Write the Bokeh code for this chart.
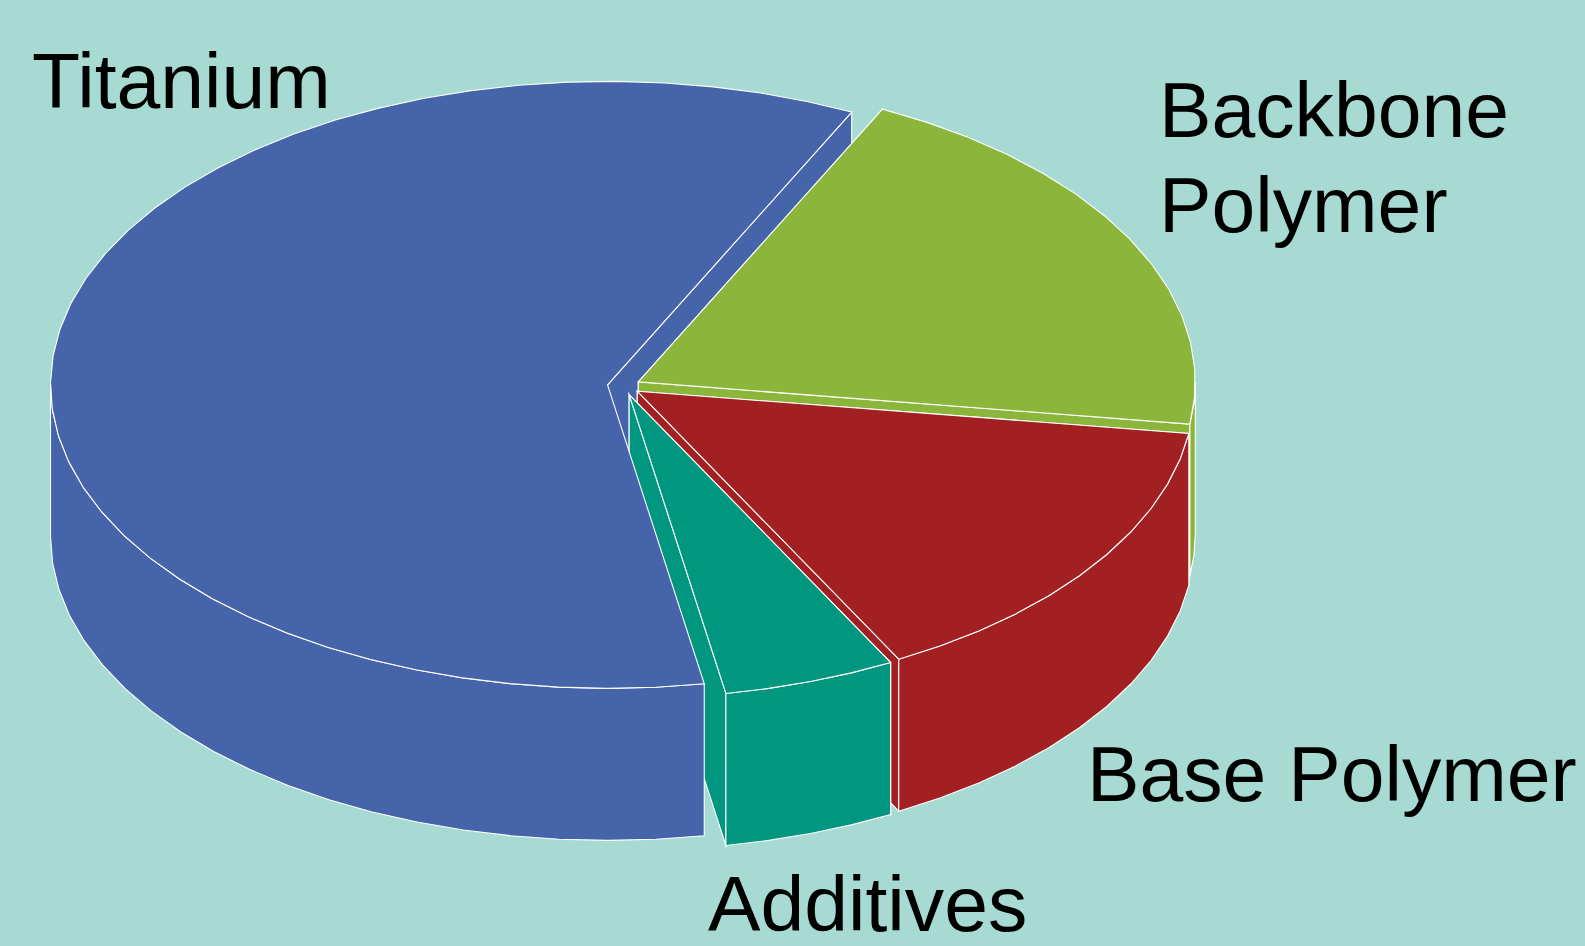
import math
from bokeh.core.properties import value
from bokeh.embed import file_html
from bokeh.models import Range1d
from bokeh.plotting import figure
from bokeh.resources import INLINE

# Material shares in percent; Titanium sweeps counter-clockwise from the cut at START,
# the others clockwise from the same cut
materials = ["Titanium", "Backbone Polymer", "Base Polymer", "Additives"]
shares = [60, 20, 15, 5]
colors = ["#4664AA", "#8CB53C", "#A32022", "#009680"]

# Label text, one entry per line of type
label_lines = ["Titanium", "Backbone", "Polymer", "Base Polymer", "Additives"]
label_xs = [31.5, 1158.5, 1158.5, 1086.5, 707.5]
label_ys = [80, 109, 204, 773, 903]

WIDTH, HEIGHT = 1585, 946
BG = "#A7DAD3"
CX, CY = 623.3, 385.6   # centre of the unexploded disc
RX, RY = 557.0, 303.5   # projected radii of the disc
DEPTH = 152.0           # height of the cylinder wall
EXPLODE = 0.0295        # radial offset, as a fraction of the radius
START = 64.0            # angle of the cut between Titanium and Backbone Polymer
STEP = 5.0              # facet size along the rim, degrees

p = figure(width=WIDTH, height=HEIGHT, output_backend="svg", toolbar_location=None,
           x_range=Range1d(0, WIDTH), y_range=Range1d(HEIGHT, 0),
           min_border=0, outline_line_color=None,
           background_fill_color=BG, border_fill_color=BG)
p.axis.visible = False
p.grid.visible = False
p.styles = {"background-color": BG}
p.quad(left=[-5], right=[WIDTH + 5], top=[-5], bottom=[HEIGHT + 5],
       fill_color=BG, line_color=None)


def rim_angles(a0, a1):
    """Angles from a0 to a1 in facets of about STEP degrees."""
    n = max(1, int(round(abs(a1 - a0) / STEP)))
    return [a0 + (a1 - a0) * i / n for i in range(n + 1)]


def poly(xs, ys, color):
    p.patch(xs, ys, fill_color=color, line_color="white", line_width=1.1, line_join="miter")


class Slice:
    """One exploded slice between angles a0 and a1, in degrees."""

    def __init__(self, a0, a1, color):
        self.a0, self.a1, self.color = a0, a1, color
        mid = math.radians((a0 + a1) / 2)
        self.cx = CX + EXPLODE * RX * math.cos(mid)
        self.cy = CY - EXPLODE * RY * math.sin(mid)

    def pt(self, a):
        r = math.radians(a)
        return self.cx + RX * math.cos(r), self.cy - RY * math.sin(r)

    def radial_face(self, a):
        x, y = self.pt(a)
        poly([self.cx, x, x, self.cx], [self.cy, y, y + DEPTH, self.cy + DEPTH], self.color)

    def outer_wall(self, s, e):
        pts = [self.pt(a) for a in rim_angles(s, e)]
        xs = [q[0] for q in pts]
        ys = [q[1] for q in pts]
        poly(xs + xs[::-1], ys + [y + DEPTH for y in ys[::-1]], self.color)

    def top(self):
        pts = [self.pt(a) for a in rim_angles(self.a0, self.a1)]
        poly([self.cx] + [q[0] for q in pts], [self.cy] + [q[1] for q in pts], self.color)


total = sum(shares)
titanium = Slice(START, START + shares[0] / total * 360.0, colors[0])

others = []
angle = START
for share, color in zip(shares[1:], colors[1:]):
    others.append(Slice(angle, angle - share / total * 360.0, color))
    angle = others[-1].a1

# Painter's order, back to front; the Titanium top lies over its neighbours' walls
titanium.radial_face(titanium.a0)
for s in others:
    s.radial_face(s.a0)
    s.radial_face(s.a1)
    if s.a1 < 0:
        s.outer_wall(min(s.a0, 0.0), s.a1)
    s.top()
titanium.outer_wall(180.0, titanium.a1)
titanium.top()

for line, lx, ly in zip(label_lines, label_xs, label_ys):
    p.text([lx], [ly], text=[line], text_font=value("Liberation Sans"),
           text_font_size="78.7px", text_color="black",
           text_align="left", text_baseline="alphabetic")

open("out.html", "w").write(file_html(p, INLINE))
